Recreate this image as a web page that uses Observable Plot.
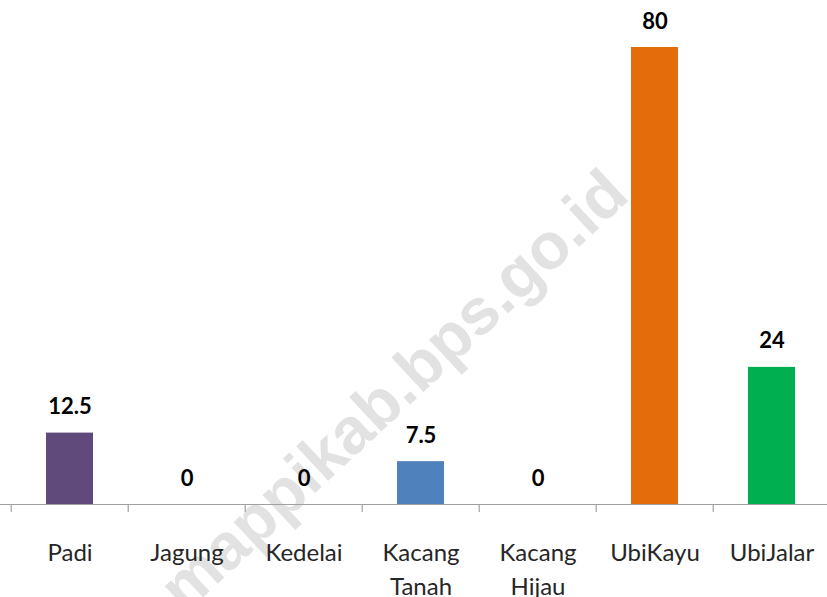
<!DOCTYPE html>
<html>
<head>
<meta charset="utf-8">
<script src="https://cdn.jsdelivr.net/npm/d3@7"></script>
<script src="https://cdn.jsdelivr.net/npm/@observablehq/plot@0.6"></script>
<style>
  html, body { margin: 0; padding: 0; background: #fff; }
  #chart svg { display: block; }
</style>
</head>
<body>
<div id="chart"></div>
<script>
const categories = ["Padi", "Jagung", "Kedelai", "Kacang Tanah", "Kacang Hijau", "UbiKayu", "UbiJalar"];
const tickLabels = ["Padi", "Jagung", "Kedelai", "Kacang\nTanah", "Kacang\nHijau", "UbiKayu", "UbiJalar"];
const values = [12.5, 0, 0, 7.5, 0, 80, 24];
const valueLabels = ["12.5", "0", "0", "7.5", "0", "80", "24"];
const barColors = ["#604a7b", "#7f7f7f", "#7f7f7f", "#4f81bd", "#7f7f7f", "#e46c0a", "#00b050"];
const watermark = "mappikab.bps.go.id";

const data = categories.map((c, i) => ({
  cat: c, value: values[i], label: valueLabels[i], tick: tickLabels[i], color: barColors[i]
}));

const xRange = [9, 832];
const band = (xRange[1] - xRange[0]) / categories.length;

const chart = Plot.plot({
  width: 827,
  height: 597,
  margin: 0,
  style: { background: "#fff" },
  x: { domain: categories, range: xRange, paddingInner: 0.6, paddingOuter: 0.3, axis: null },
  y: { domain: [0, 80], range: [504, 47], axis: null },
  marks: [
    Plot.text([watermark], {
      text: d => d, frameAnchor: "middle", rotate: -43, dx: -20, dy: 92,
      fontSize: 65, fontWeight: "bold", fill: "#e2e2e2",
      fontFamily: "Liberation Sans, Arial, sans-serif"
    }),
    Plot.barY(data, { x: "cat", y: "value", fill: "color" }),
    Plot.ruleY([0], { stroke: "#a0a0a0", strokeWidth: 1.2 }),
    Plot.ruleX(data, { x: "cat", y1: 0, y2: 0, insetBottom: -8, dx: -band / 2, stroke: "#a0a0a0", strokeWidth: 1.2 }),
    Plot.ruleX([categories[categories.length - 1]], { x: d => d, y1: 0, y2: 0, insetBottom: -8, dx: band / 2, stroke: "#a0a0a0", strokeWidth: 1.2 }),
    Plot.text(data, {
      x: "cat", y: "value", text: "label", lineAnchor: "bottom", dy: -19,
      fontSize: 22, fontWeight: "bold", fill: "#000",
      fontFamily: "Lato, sans-serif"
    }),
    Plot.text(data, {
      x: "cat", y: 0, text: "tick", lineAnchor: "top", dy: 33, lineHeight: 1.4,
      fontSize: 24, fill: "#262626",
      fontFamily: "Lato, sans-serif"
    })
  ]
});
document.getElementById("chart").appendChild(chart);
</script>
</body>
</html>
